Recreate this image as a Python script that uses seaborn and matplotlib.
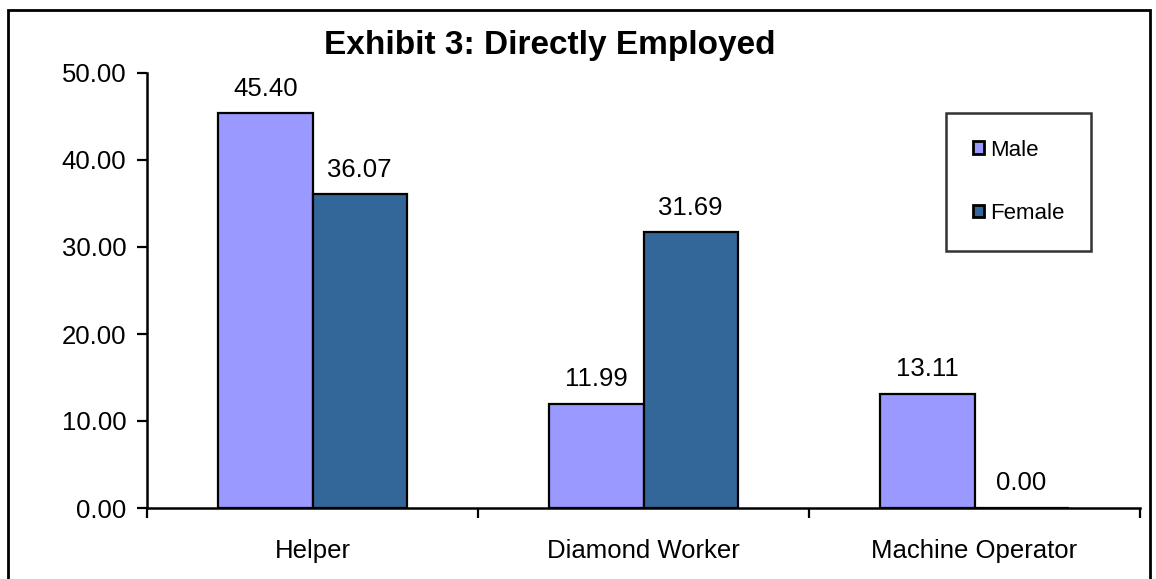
import matplotlib
matplotlib.use("Agg")
import matplotlib.pyplot as plt
from matplotlib.patches import Rectangle
import seaborn as sns
import pandas as pd

categories = ["Helper", "Diamond Worker", "Machine Operator"]
male = [45.40, 11.99, 13.11]
female = [36.07, 31.69, 0.00]
series = ["Male", "Female"]
colors = ["#9999FF", "#336699"]
yticks = [0, 10, 20, 30, 40, 50]

df = pd.DataFrame({
    "Category": categories * 2,
    "Value": male + female,
    "Sex": ["Male"] * 3 + ["Female"] * 3,
})

sns.set_theme(style="white")
plt.rcParams["font.family"] = ["Liberation Sans", "DejaVu Sans"]
plt.rcParams["text.color"] = "black"
plt.rcParams["xtick.color"] = "black"
plt.rcParams["ytick.color"] = "black"
plt.rcParams["axes.labelcolor"] = "black"

fig = plt.figure(figsize=(11.56, 5.79), dpi=100)
ax = fig.add_axes([147 / 1156, 71 / 579, (1140 - 147) / 1156, (508 - 73) / 579])

sns.barplot(data=df, x="Category", y="Value", hue="Sex", order=categories,
            hue_order=series, palette=colors, width=0.568, gap=0,
            edgecolor="black", linewidth=1.6, saturation=1, ax=ax, legend=True)

for cont in ax.containers:
    ax.bar_label(cont, fmt="%.2f", padding=9, fontsize=18.5, color="black")

ax.set_ylim(0, 50)
ax.set_yticks(yticks)
ax.set_yticklabels([f"{v:.2f}" for v in yticks], fontsize=18.5)
ax.set_xlim(-0.5, 2.5)
ax.set_xticks(range(len(categories)))
ax.set_xticklabels(categories, fontsize=18.5)
ax.set_xticks([-0.5, 0.5, 1.5, 2.5], minor=True)
ax.tick_params(axis="x", which="major", length=0, pad=22)
ax.tick_params(axis="x", which="minor", length=7, width=1.6, color="black", direction="out", bottom=True)
ax.tick_params(axis="y", length=7, width=1.6, color="black", direction="out", left=True, pad=8)
ax.set_xlabel("")
ax.set_ylabel("")
for s in ["top", "right"]:
    ax.spines[s].set_visible(False)
for s in ["left", "bottom"]:
    ax.spines[s].set_color("black")
    ax.spines[s].set_linewidth(1.8)

ax.set_title("Exhibit 3: Directly Employed", fontsize=24, fontweight="bold", pad=14,
             x=(550 - 147) / (1140 - 147), color="black")

leg = ax.legend(loc="upper left", bbox_to_anchor=((946 - 147) / 993, (579 - 113 - 71) / 435),
                frameon=True, fontsize=16, handlelength=0.5, handleheight=0.5,
                handletextpad=0.3, labelspacing=1.9, borderpad=1.2, fancybox=False,
                borderaxespad=0)
leg.get_frame().set_edgecolor("black")
leg.get_frame().set_linewidth(1.8)
for t in leg.get_texts():
    t.set_color("black")
for h in leg.legend_handles:
    h.set_edgecolor("black")
    h.set_linewidth(2)

fig.patches.append(Rectangle((8 / 1156, -0.05), (1150 - 8) / 1156, 1.05 - 10 / 579,
                             transform=fig.transFigure, fill=False,
                             edgecolor="black", linewidth=2, zorder=10))

fig.savefig("out.png", dpi=100)
